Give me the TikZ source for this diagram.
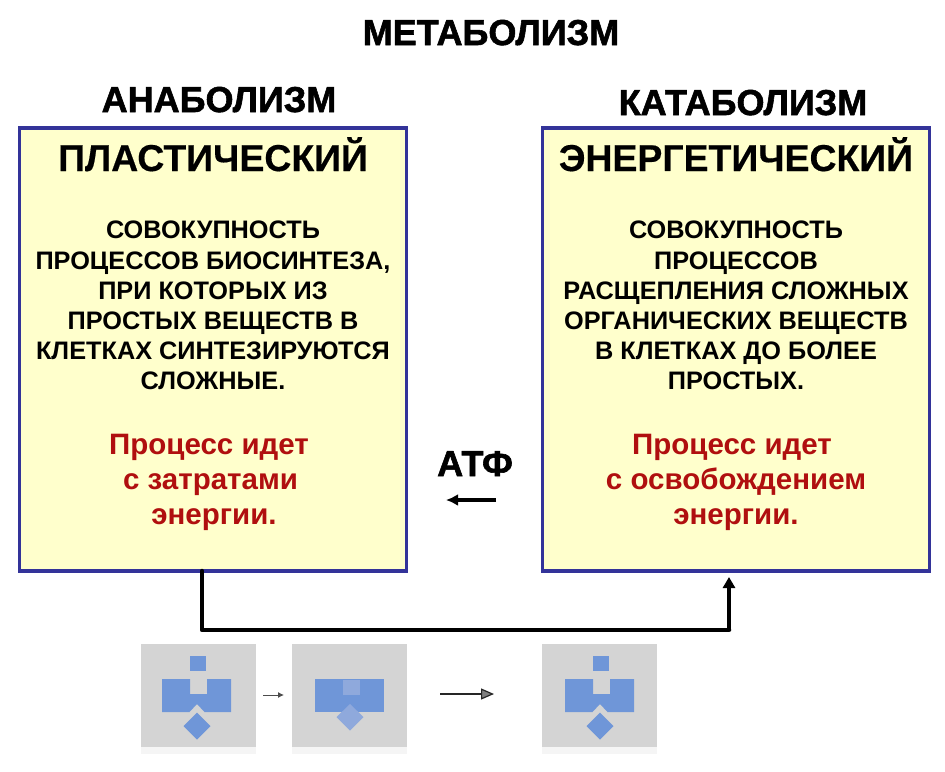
\documentclass[tikz,border=0pt]{standalone}
\usepackage{fontspec}
\setmainfont{Liberation Sans}[BoldFont=Liberation Sans Bold]
\newfontfamily\heavy{Liberation Sans Bold}[FakeBold=1.6]
\newfontfamily\semi{Liberation Sans Bold}[FakeBold=0.4]
\usetikzlibrary{arrows.meta,calc}
\definecolor{boxfill}{HTML}{FFFFCC}
\definecolor{boxline}{HTML}{333399}
\definecolor{redtxt}{HTML}{B00F0F}
\definecolor{panelgrey}{HTML}{D4D4D4}
\definecolor{shadowgrey}{HTML}{F5F5F5}
\definecolor{shapeblue}{HTML}{6F96D8}
\definecolor{shapelight}{HTML}{8FA9DC}
\tikzset{
  x=1pt,y=-1pt,
  bigbox/.style={draw=boxline,line width=3.5pt,fill=boxfill,minimum width=387pt,minimum height=443pt,inner sep=0pt,outer sep=0pt},
  headtxt/.style={font=\heavy\fontsize{36}{36}\selectfont,inner sep=0pt,anchor=base},
  kindtxt/.style={font=\semi\fontsize{37.4}{37.4}\selectfont,inner sep=0pt,anchor=base},
  bodytxt/.style={font=\bfseries\fontsize{25.3}{30.2}\selectfont,align=center,inner sep=0pt},
  redblock/.style={font=\bfseries\fontsize{29.5}{35.2}\selectfont,text=redtxt,align=center,inner sep=0pt},
  panel/.style={fill=panelgrey,minimum width=115pt,minimum height=103pt,inner sep=0pt,draw=none},
  thick line/.style={line width=4.5pt,line cap=round,line join=round},
  blueshape/.style={fill=shapeblue,draw=none},
  lightshape/.style={fill=shapelight,draw=none}
}
\newcommand{\fullunit}[1]{%
  \fill[blueshape] (#1,656) rectangle ++(16,15);
  \fill[blueshape] (#1-28,679) -- (#1,679) -- (#1,694) -- (#1+17,694) -- (#1+17,679) -- (#1+41,679) -- (#1+41,712) -- (#1+14.5,712) -- (#1+7,704) -- (#1-0.5,712) -- (#1-28,712) -- cycle;
  \fill[blueshape] (#1+7,712.5) -- (#1+20.5,726) -- (#1+7,739.5) -- (#1-6.5,726) -- cycle;
}
\begin{document}
\begin{tikzpicture}
\useasboundingbox (0,0) rectangle (945,771);
\fill[white] (0,0) rectangle (945,771);

\node[headtxt] (title) at (491,45) {МЕТАБОЛИЗМ};
\node[headtxt] (ana) at (219,112) {АНАБОЛИЗМ};
\node[headtxt] (kata) at (743,115) {КАТАБОЛИЗМ};

\node[bigbox] (left) at (213,349.5) {};
\node[bigbox] (right) at (736,349.5) {};

\node[kindtxt] (plast) at (213,171) {ПЛАСТИЧЕСКИЙ};
\node[kindtxt] (energ) at (736,171) {ЭНЕРГЕТИЧЕСКИЙ};

\node[bodytxt,anchor=north] (ltxt) at (213,221) {СОВОКУПНОСТЬ\\ПРОЦЕССОВ БИОСИНТЕЗА,\\ПРИ КОТОРЫХ ИЗ\\ПРОСТЫХ ВЕЩЕСТВ В\\КЛЕТКАХ СИНТЕЗИРУЮТСЯ\\СЛОЖНЫЕ.};
\node[bodytxt,anchor=north] (rtxt) at (736,221) {СОВОКУПНОСТЬ\\ПРОЦЕССОВ\\РАСЩЕПЛЕНИЯ СЛОЖНЫХ\\ОРГАНИЧЕСКИХ ВЕЩЕСТВ\\В КЛЕТКАХ ДО БОЛЕЕ\\ПРОСТЫХ.};

\node[redblock,anchor=north] (lred) at (209,434) {Процесс идет\\\hspace*{3pt}с затратами\\\hspace*{10pt}энергии.};
\node[redblock,anchor=north] (rred) at (736,434) {Процесс идет\hspace*{8pt}\\с освобождением\\энергии.};

\node[headtxt,font=\heavy\fontsize{36}{36}\selectfont] (atf) at (475,476) {АТФ};
\coordinate (atfR) at (496,500);
\coordinate (atfL) at (446,500);
\draw[line width=3.5pt,-{Latex[length=12pt,width=12pt]}] (atfR) -- (atfL);

% connector
\coordinate (c1) at (left.south -| 202,0);
\coordinate (c2) at (202,630);
\coordinate (c3) at (729,630);
\coordinate (c4) at (729,577);
\draw[thick line] (c1) -- (c2) -- (c3);
\draw[line width=4pt,-{Triangle[length=11pt,width=12pt]}] (c3) -- (c4);

% panels
\fill[shadowgrey] (141,747) rectangle (256,754);
\fill[shadowgrey] (292,747) rectangle (407,754);
\fill[shadowgrey] (542,747) rectangle (657,754);
\node[panel] (p1) at (198.5,695.5) {};
\node[panel] (p2) at (349.5,695.5) {};
\node[panel] (p3) at (599.5,695.5) {};

\fullunit{190}
\fill[blueshape] (315,679) rectangle (384,712);
\fill[lightshape] (343,680) rectangle (360,695);
\fill[lightshape] (350,704) -- (363.5,717) -- (350,730.5) -- (336.5,717) -- cycle;
\fullunit{593}

\coordinate (a1s) at (263,695);
\coordinate (a1e) at (284,695);
\draw[line width=1pt,draw=black!70,-{Latex[length=6pt,width=6pt]}] (a1s) -- (a1e);
\coordinate (a2s) at (440,694);
\coordinate (a2e) at (494,694);
\draw[line width=1.2pt,draw=black!85,-{Triangle[length=13pt,width=11pt,fill=black!50]}] (a2s) -- (a2e);
\end{tikzpicture}
\end{document}
